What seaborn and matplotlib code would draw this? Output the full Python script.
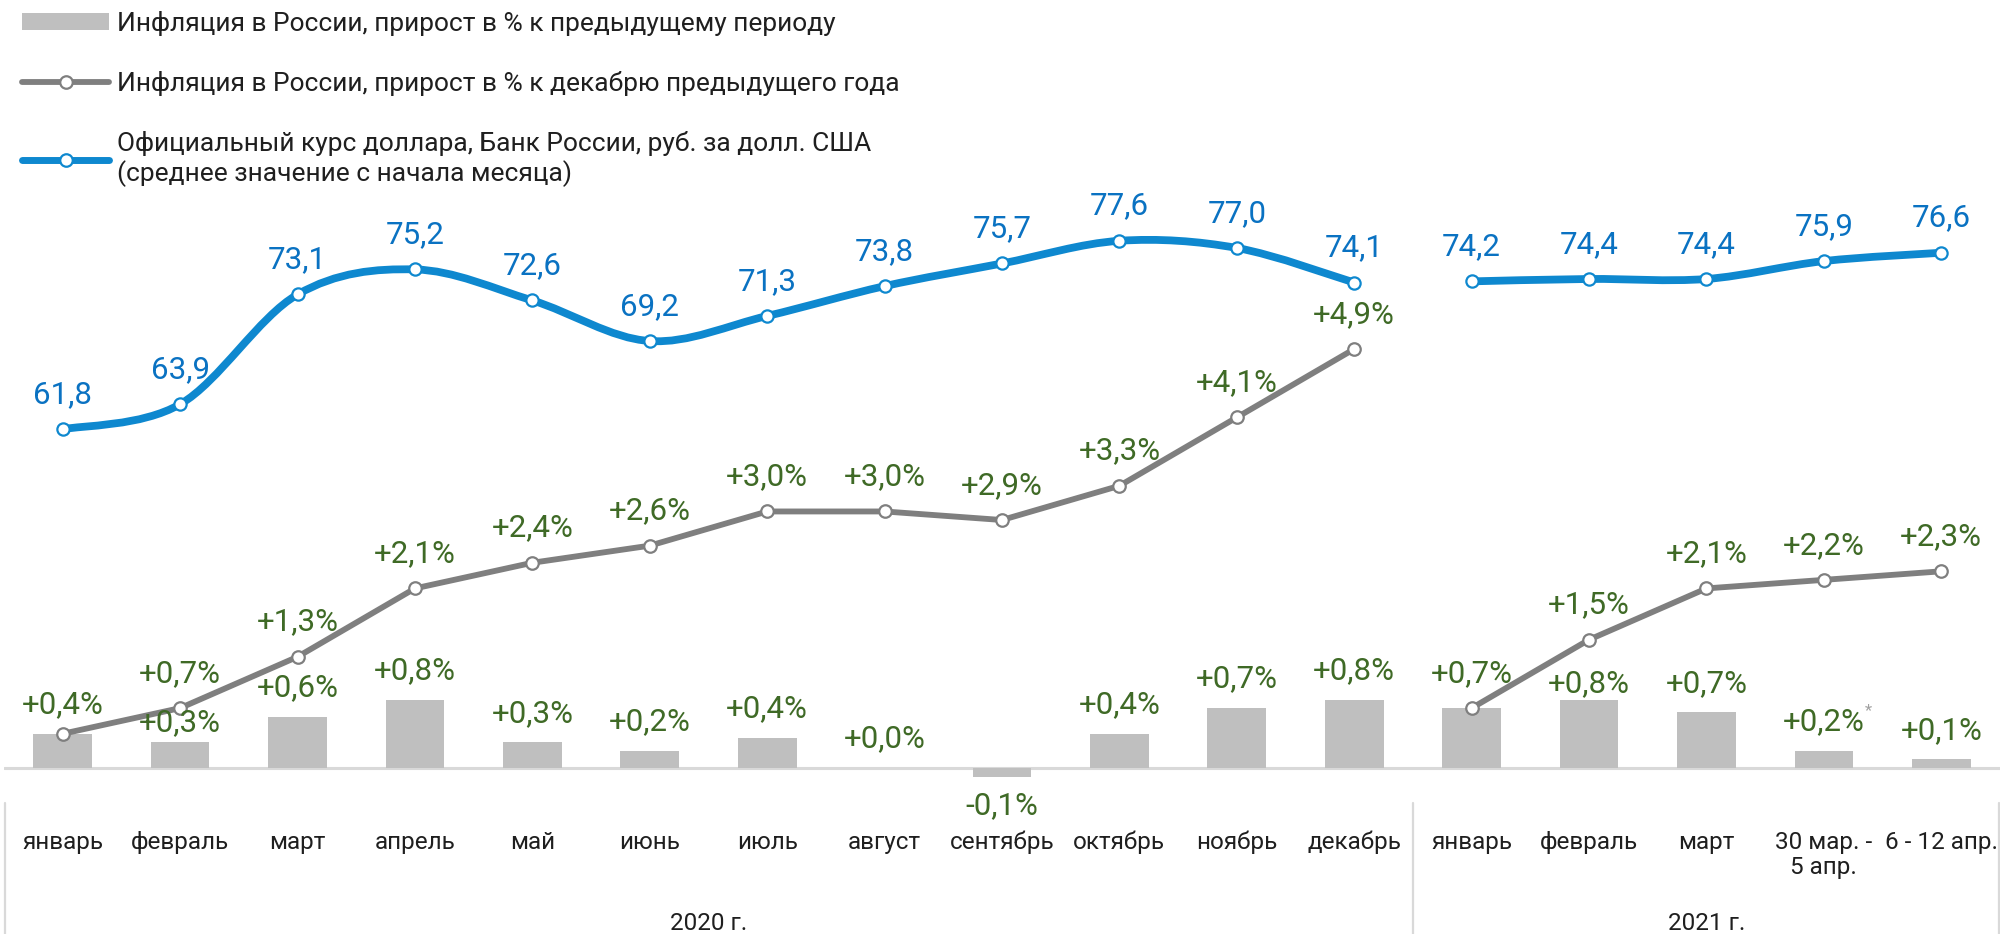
import matplotlib
matplotlib.use("Agg")
import numpy as np
import pandas as pd
import matplotlib.pyplot as plt
import seaborn as sns
from matplotlib.path import Path
from matplotlib.patches import PathPatch, Patch
from matplotlib.lines import Line2D
from matplotlib.transforms import blended_transform_factory

# --- data -------------------------------------------------------------
periods = ["январь", "февраль", "март", "апрель", "май", "июнь", "июль", "август",
           "сентябрь", "октябрь", "ноябрь", "декабрь",
           "январь", "февраль", "март", "30 мар. -\n5 апр.", "6 - 12 апр."]
years = ["2020 г.", "2021 г."]
year_len = [12, 5]

# inflation, % to previous period (bars)
infl_period = [0.4, 0.3, 0.6, 0.8, 0.3, 0.2, 0.35, 0.0, -0.1, 0.4, 0.7, 0.8,
               0.7, 0.8, 0.65, 0.2, 0.1]
infl_period_labels = ["+0,4%", "+0,3%", "+0,6%", "+0,8%", "+0,3%", "+0,2%", "+0,4%", "+0,0%",
                      "-0,1%", "+0,4%", "+0,7%", "+0,8%",
                      "+0,7%", "+0,8%", "+0,7%", "+0,2%", "+0,1%"]
# inflation, % to December of previous year (grey line)
infl_ytd = [0.4, 0.7, 1.3, 2.1, 2.4, 2.6, 3.0, 3.0, 2.9, 3.3, 4.1, 4.9,
            0.7, 1.5, 2.1, 2.2, 2.3]
# official USD rate, rub (blue line)
usd_rate = [61.8, 63.9, 73.1, 75.2, 72.6, 69.2, 71.3, 73.8, 75.7, 77.6, 77.0, 74.1,
            74.2, 74.4, 74.4, 75.9, 76.6]

# --- style ------------------------------------------------------------
BAR = "#bfbfbf"
GREY = "#7f7f7f"
BLUE_LINE = "#0e88cf"
BLUE_TEXT = "#0a72c2"
GREEN = "#3f6a26"
TEXT = "#1f1f1f"
RULE = "#d9d9d9"

sns.set_theme(style="white")
plt.rcParams["font.family"] = ["Roboto", "DejaVu Sans"]

W, H = 2000, 934
fig = plt.figure(figsize=(W / 100, H / 100), dpi=100)
ax = fig.add_axes([4 / W, 0, 1 - 4 / W, 1])

n = len(periods)
pos = np.arange(n)
df = pd.DataFrame({"pos": pos, "period": infl_period, "ytd": infl_ytd, "usd": usd_rate,
                   "year": np.repeat(years, year_len)})

# bars
sns.barplot(data=df, x="pos", y="period", color=BAR, saturation=1, width=0.5,
            edgecolor="none", ax=ax, zorder=2)
ax.axhline(0, color=RULE, lw=2.2, zorder=1)

# grey cumulative line, one segment per year
for yr in years:
    seg = df[df["year"] == yr]
    sns.lineplot(data=seg, x="pos", y="ytd", ax=ax, color=GREY, lw=4.2, marker="o",
                 markersize=9, markerfacecolor="white", markeredgecolor=GREY,
                 markeredgewidth=1.6, zorder=4)

ax.set_xlim(-0.5, n - 0.5)
ax.set_ylim(-1.942, 8.982)

# blue rate line on the secondary axis, smoothed like Excel
ax2 = ax.twinx()
ax2.set_ylim(19.494, 97.785)


def smooth_path(x, y):
    pts = np.column_stack([x, y]).astype(float)
    ext = np.vstack([pts[0], pts, pts[-1]])
    verts = [pts[0]]
    codes = [Path.MOVETO]
    for i in range(len(pts) - 1):
        p0, p1, p2, p3 = ext[i], ext[i + 1], ext[i + 2], ext[i + 3]
        verts += [p1 + (p2 - p0) / 6, p2 - (p3 - p1) / 6, p2]
        codes += [Path.CURVE4] * 3
    return Path(verts, codes)


for yr in years:
    seg = df[df["year"] == yr]
    ax2.add_patch(PathPatch(smooth_path(seg["pos"], seg["usd"]), facecolor="none",
                            edgecolor=BLUE_LINE, lw=5.6, capstyle="round", zorder=3))
sns.scatterplot(data=df, x="pos", y="usd", ax=ax2, marker="o", s=78, color="white",
                edgecolor=BLUE_LINE, linewidth=1.6, zorder=5)

for a in (ax, ax2):
    a.set_xticks([])
    a.set_yticks([])
    a.set_xlabel("")
    a.set_ylabel("")
    for s in a.spines.values():
        s.set_visible(False)
    a.patch.set_visible(False)

# --- data labels ------------------------------------------------------
LBL = 22.5
bar_dy = {1: 14, 12: 25, 13: 11.5}
for i in range(n):
    v = infl_period[i]
    dy = bar_dy.get(i, 21)
    if v < 0:
        dy = -dy
    ax.annotate(infl_period_labels[i], (i, v), xytext=(0, dy), textcoords="offset points",
                ha="center", va="center", color=GREEN, fontsize=LBL, zorder=6)
ax.annotate("*", (15, infl_period[15]), xytext=(32, 29), textcoords="offset points",
            ha="center", va="center", color="#a0a0a0", fontsize=12)

for i in range(n):
    if i in (0, 12):
        continue
    ax.annotate(f"+{infl_ytd[i]:.1f}%".replace(".", ","), (i, infl_ytd[i]), xytext=(0, 25),
                textcoords="offset points", ha="center", va="center", color=GREEN,
                fontsize=LBL, zorder=6)

for i in range(n):
    ax2.annotate(f"{usd_rate[i]:.1f}".replace(".", ","), (i, usd_rate[i]), xytext=(0, 25),
                 textcoords="offset points", ha="center", va="center", color=BLUE_TEXT,
                 fontsize=LBL, zorder=6)

# --- category axis drawn as text under the chart ---------------------
trans = blended_transform_factory(ax.transData, fig.transFigure)
for i, lab in enumerate(periods):
    ax.text(i, 1 - 831 / H, lab, transform=trans, ha="center", va="top",
            fontsize=17.5, color=TEXT, linespacing=1.12)

start = 0
for yr, ln in zip(years, year_len):
    ax.text(start + (ln - 1) / 2, 1 - 923 / H, yr, transform=trans, ha="center",
            va="center", fontsize=17.5, color=TEXT)
    start += ln

for xv in (-0.49, 11.5, n - 0.51):
    ax.plot([xv, xv], [1 - 803 / H, 0], transform=trans, color=RULE, lw=1.6,
            clip_on=False)

# --- legend -----------------------------------------------------------
handles = [
    Patch(facecolor=BAR, edgecolor="none"),
    Line2D([], [], color=GREY, lw=4.2, marker="o", markersize=9, markerfacecolor="white",
           markeredgecolor=GREY, markeredgewidth=1.6),
    Line2D([], [], color=BLUE_LINE, lw=5, marker="o", markersize=9,
           markerfacecolor="white", markeredgecolor=BLUE_LINE, markeredgewidth=1.6),
]
labels = [
    "Инфляция в России, прирост в % к предыдущему периоду",
    "Инфляция в России, прирост в % к декабрю предыдущего года",
    "Официальный курс доллара, Банк России, руб. за долл. США\n(среднее значение с начала месяца)",
]
fig.legend(handles, labels, loc="upper left", bbox_to_anchor=(22 / W, 1 - 11 / H),
           frameon=False, fontsize=19, handlelength=3.3, handleheight=0.6,
           handletextpad=0.3, labelspacing=1.33, borderpad=0, borderaxespad=0,
           labelcolor=TEXT)

fig.savefig("out.png", dpi=100)
